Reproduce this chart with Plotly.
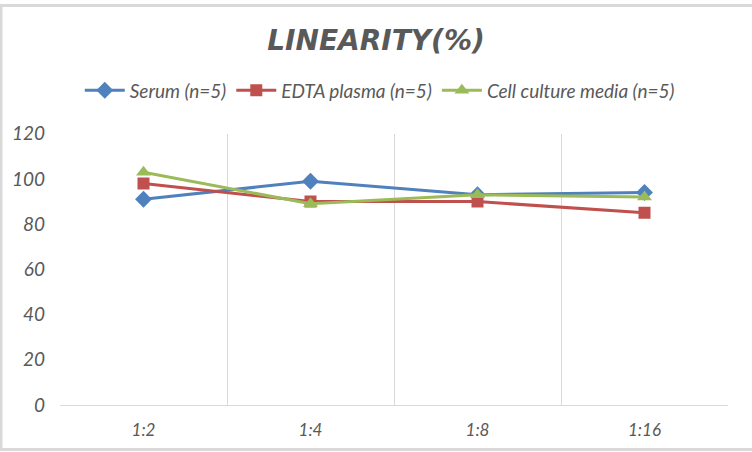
import plotly.graph_objects as go

dilutions = ["1:2", "1:4", "1:8", "1:16"]
serum = [91, 99, 93, 94]
edta_plasma = [98, 90, 90, 85]
cell_media = [103, 89, 93, 92]

series = [
    ("Serum (n=5)", serum, "#4F81BD", "diamond", 13),
    ("EDTA plasma (n=5)", edta_plasma, "#C0504D", "square", 12),
    ("Cell culture media (n=5)", cell_media, "#9BBB59", "triangle-up", 13),
]

fig = go.Figure()
for name, vals, color, symbol, size in series:
    fig.add_trace(
        go.Scatter(
            x=dilutions,
            y=vals,
            name=name,
            mode="lines+markers",
            line=dict(color=color, width=3),
            marker=dict(symbol=symbol, size=size, color=color),
        )
    )

grey = "#595959"
fig.update_layout(
    width=752,
    height=452,
    margin=dict(l=60, r=24, t=131, b=46),
    paper_bgcolor="white",
    plot_bgcolor="white",
    font=dict(family="Lato", color=grey),
    title=dict(
        text="LINEARITY(%)",
        x=0.5,
        xref="container",
        xanchor="center",
        y=0.912,
        yref="container",
        yanchor="middle",
        font=dict(family="DejaVu Sans", size=28, weight="bold", style="italic", color=grey),
    ),
    legend=dict(
        orientation="h",
        x=0.505,
        xref="container",
        xanchor="center",
        y=0.80,
        yref="container",
        yanchor="middle",
        font=dict(size=19, style="italic", color=grey),
        itemwidth=40,
    ),
    showlegend=True,
)
fig.update_xaxes(
    type="category",
    range=[-0.5, 3.5],
    tickson="boundaries",
    showgrid=True,
    gridcolor="#d9d9d9",
    gridwidth=1,
    showline=True,
    linecolor="#d9d9d9",
    linewidth=1,
    ticks="",
    ticklabelstandoff=10,
    tickfont=dict(size=17, style="italic", color=grey),
)
fig.update_yaxes(
    range=[0, 120],
    dtick=20,
    showgrid=False,
    zeroline=False,
    showline=False,
    ticks="",
    ticklabelstandoff=14,
    tickfont=dict(size=19, style="italic", color=grey),
)
fig.add_shape(
    type="rect",
    xref="paper",
    yref="paper",
    x0=-59 / 668,
    x1=751 / 668,
    y0=-45 / 275,
    y1=405 / 275,
    line=dict(color="#d9d9d9", width=3),
    layer="below",
)

fig.write_html(
    "out.html",
    config={"displayModeBar": False},
    post_script="document.body.style.margin='0';",
)
